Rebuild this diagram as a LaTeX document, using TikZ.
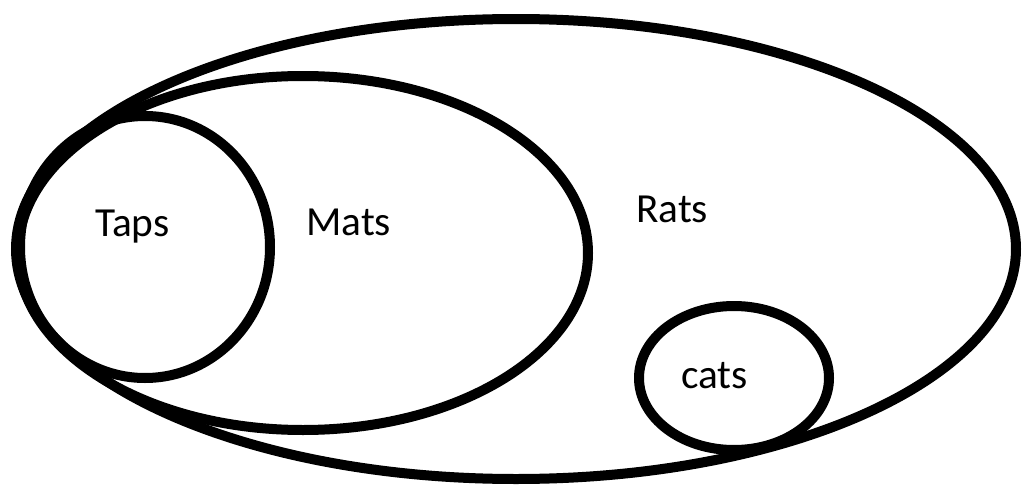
\documentclass[tikz,border=0pt]{standalone}
\usepackage{fontspec}
\setmainfont{Carlito}
\usepackage{tikz}

\tikzset{
  setline/.style={line width=7.5pt},
  setlabel/.style={anchor=base west, inner sep=0pt, font=\fontsize{31}{31}\selectfont}
}

\begin{document}
\begin{tikzpicture}[x=0.75pt, y=-0.75pt]
        \useasboundingbox (0,0) rectangle (1022,489);
        \draw[setline] (516,249) ellipse [x radius=500, y radius=230]; % Rats
        \draw[setline] (303,253) ellipse [x radius=285, y radius=177]; % Mats
        \draw[setline] (145,247) ellipse [x radius=125, y radius=131]; % Taps
        \draw[setline] (734,378) ellipse [x radius=95, y radius=72]; % cats
        \node[setlabel] (taps) at (95,236) {Taps};
        \node[setlabel] (mats) at (306,235) {Mats};
        \node[setlabel] (rats) at (636,222) {Rats};
        \node[setlabel] (cats) at (681,388) {cats};
    \end{tikzpicture}
\end{document}
